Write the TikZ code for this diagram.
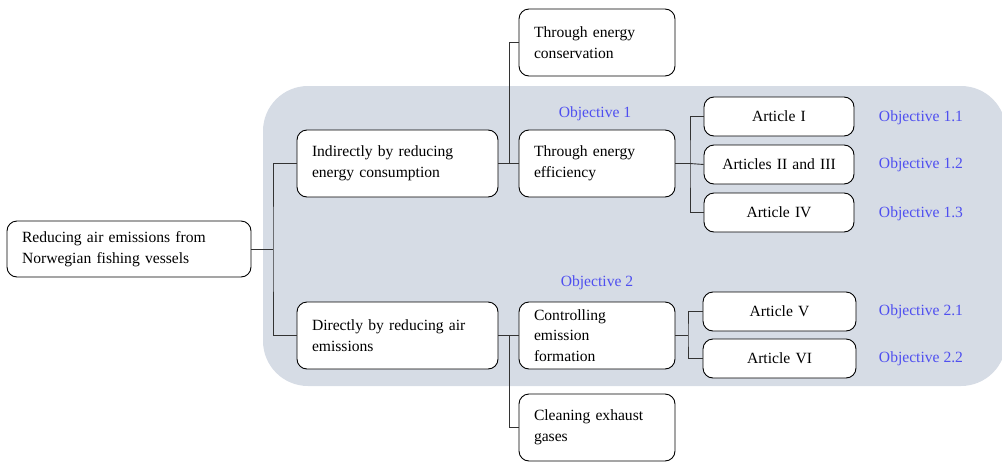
\documentclass[tikz,border=0pt]{standalone}
\usepackage{fontspec}
\setmainfont{Liberation Serif}
\begin{document}
\begin{tikzpicture}[x=1pt,y=-1pt,
  box/.style={draw=black,line width=0.9pt,fill=white,rounded corners=10pt,inner xsep=15pt,inner ysep=0pt,font=\fontsize{15.6}{20.5}\selectfont,anchor=center},
  lbox/.style={box,align=left},
  cbox/.style={box,align=center},
  obj/.style={text=objblue,font=\fontsize{15.6}{18}\selectfont,anchor=center},
  conn/.style={draw=black!80,line width=0.9pt}]
\definecolor{objblue}{HTML}{4F4FF0}
\definecolor{bgblue}{HTML}{D6DCE5}
\useasboundingbox (0,0) rectangle (1002,461);
\fill[bgblue,rounded corners=45pt] (263,86) rectangle (1006,386);

% nodes
\node[lbox,minimum width=244pt,minimum height=56pt,text width=214pt] (root) at (129,249) {Reducing air emissions from\\Norwegian fishing vessels};
\node[lbox,minimum width=201pt,minimum height=67pt,text width=171pt] (ind) at (397.5,163.5) {Indirectly by reducing\\energy consumption};
\node[lbox,minimum width=201pt,minimum height=67pt,text width=171pt] (dir) at (397.5,335.5) {Directly by reducing air\\emissions};
\node[lbox,minimum width=156pt,minimum height=67pt,text width=126pt] (cons) at (597,42.5) {Through energy\\conservation};
\node[lbox,minimum width=156pt,minimum height=67pt,text width=126pt] (eff) at (597,163.5) {Through energy\\efficiency};
\node[lbox,minimum width=156pt,minimum height=67pt,text width=126pt] (ctrl) at (597,335.5) {Controlling\\emission\\formation};
\node[lbox,minimum width=156pt,minimum height=67pt,text width=126pt] (clean) at (597,427.5) {Cleaning exhaust\\gases};

\node[cbox,minimum width=150pt,minimum height=39pt,text width=120pt] (a1) at (779,116.5) {Article I};
\node[cbox,minimum width=150pt,minimum height=39pt,text width=120pt] (a2) at (779,164.5) {Articles II and III};
\node[cbox,minimum width=150pt,minimum height=39pt,text width=120pt] (a4) at (779,212.5) {Article IV};
\node[cbox,minimum width=153pt,minimum height=39pt,text width=123pt] (a5) at (779.5,311.5) {Article V};
\node[cbox,minimum width=153pt,minimum height=39pt,text width=123pt] (a6) at (779.5,358.5) {Article VI};

\node[obj] (o1) at (595,114) {Objective 1};
\node[obj] (o2) at (597,283) {Objective 2};
\node[obj] (o11) at (921,118) {Objective 1.1};
\node[obj] (o12) at (921,165) {Objective 1.2};
\node[obj] (o13) at (921,214) {Objective 1.3};
\node[obj] (o21) at (921,312) {Objective 2.1};
\node[obj] (o22) at (921,359) {Objective 2.2};

% connectors
\coordinate (j0) at (273,249);
\draw[conn] (root.east) -- (j0);
\draw[conn] (ind.west) -| (j0) |- (dir.west);
\coordinate (j1) at (509,163.5);
\draw[conn] (ind.east) -- (eff.west);
\draw[conn] (cons.west) -| (j1);
\coordinate (j2) at (509,335.5);
\draw[conn] (dir.east) -- (ctrl.west);
\draw[conn] (clean.west) -| (j2);
\coordinate (j3) at (690,163.5);
\draw[conn] (eff.east) -- (j3);
\draw[conn] (a1.west) -| (j3) |- (a4.west);
\draw[conn] (j3) -- (a2.west);
\coordinate (j4) at (688,335.5);
\draw[conn] (ctrl.east) -- (j4);
\draw[conn] (a5.west) -| (j4) |- (a6.west);
\end{tikzpicture}
\end{document}
